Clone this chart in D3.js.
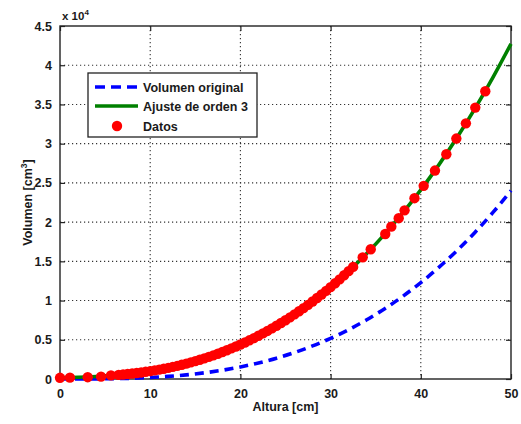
<!DOCTYPE html>
<html>
<head>
<meta charset="utf-8">
<script src="https://cdn.jsdelivr.net/npm/d3@7"></script>
<style>
  html, body { margin: 0; padding: 0; background: #fff; }
  svg { display: block; }
  text { font-family: "Liberation Sans", Arial, sans-serif; fill: #1a1a1a; }
</style>
</head>
<body>
<svg id="chart" width="521" height="424"></svg>
<script>
// ---- Data (volumes in cm^3) ----
const xTicks = [0, 10, 20, 30, 40, 50];
const yTicks = [0, 5000, 10000, 15000, 20000, 25000, 30000, 35000, 40000, 45000];
const yTickLabels = ["0", "0.5", "1", "1.5", "2", "2.5", "3", "3.5", "4", "4.5"];

// Volumen original (dashed blue)
const origH = [0, 2, 4, 6, 8, 10, 12, 14, 16, 18, 20, 22, 24, 26, 28, 30, 32, 34, 36, 38, 40, 42, 44, 46, 48, 50];
const origV = [0, 2, 12, 42, 98, 192, 332, 527, 786, 1120, 1536, 2044, 2654, 3375, 4215, 5184, 6292, 7546, 8958, 10535, 12288, 14225, 16355, 18687, 21234, 24000];

// Ajuste de orden 3 (solid green)
const fitH = [0, 2, 4, 6, 8, 10, 12, 14, 16, 18, 20, 22, 24, 26, 28, 30, 32, 34, 36, 38, 40, 42, 44, 46, 48, 50];
const fitV = [200, 230, 320, 470, 693, 1002, 1422, 1962, 2632, 3440, 4396, 5509, 6788, 8242, 9881, 11714, 13750, 15998, 18468, 21168, 24108, 27297, 30745, 34458, 38452, 42730];

// Datos (red markers)
const dataH = [0, 1.1, 3.07, 4.55, 5.65,
  6.5, 7, 7.5, 8, 8.5, 9, 9.5, 10, 10.5, 11, 11.5, 12, 12.5, 13, 13.5, 14, 14.5, 15, 15.5, 16,
  16.5, 17, 17.5, 18, 18.5, 19, 19.5, 20, 20.5, 21, 21.5, 22, 22.5, 23, 23.5, 24, 24.5, 25,
  25.5, 26, 26.5, 27, 27.5, 28, 28.5, 29, 29.5, 30, 30.5, 31, 31.5, 32, 32.5,
  33.56, 34.45, 36.06, 36.73, 37.55, 38.2, 39.3, 40.32, 41.57, 42.83, 43.94, 45.0, 46.04, 47.15];
const dataV = [150, 180, 230, 300, 460,
  528, 577, 632, 693, 760, 834, 915, 1002, 1096, 1198, 1306, 1422, 1546, 1677, 1816, 1962, 2117, 2281, 2452, 2632,
  2821, 3018, 3225, 3440, 3665, 3899, 4143, 4396, 4659, 4932, 5215, 5509, 5813, 6127, 6452, 6788, 7135, 7493,
  7862, 8242, 8634, 9038, 9454, 9881, 10321, 10773, 11237, 11714, 12204, 12706, 13221, 13750, 14292,
  15510, 16540, 18490, 19420, 20500, 21500, 23050, 24620, 26570, 28650, 30650, 32590, 34600, 36680];

const legendLabels = ["Volumen original", "Ajuste de orden 3", "Datos"];

// ---- Drawing ----
const svg = d3.select("#chart");
const pLeft = 60, pRight = 511, pTop = 26, pBottom = 379;

const x = d3.scaleLinear().domain([0, 50]).range([pLeft, pRight]);
const y = d3.scaleLinear().domain([0, 45000]).range([pBottom, pTop]);

const gridColor = "#333";

// grid
const grid = svg.append("g");
grid.selectAll("line.gx").data(xTicks.slice(1, -1)).join("line")
  .attr("x1", d => x(d)).attr("x2", d => x(d))
  .attr("y1", pTop).attr("y2", pBottom)
  .attr("stroke", gridColor).attr("stroke-width", 1.1).attr("stroke-dasharray", "1.2,2.8");
grid.selectAll("line.gy").data(yTicks.slice(1, -1)).join("line")
  .attr("x1", pLeft).attr("x2", pRight)
  .attr("y1", d => y(d)).attr("y2", d => y(d))
  .attr("stroke", gridColor).attr("stroke-width", 1.1).attr("stroke-dasharray", "1.2,2.8");

// axes (D3 axes with inward ticks)
const fontSize = "12.5px";
const axB = svg.append("g").attr("transform", `translate(0,${pBottom})`)
  .call(d3.axisBottom(x).tickValues(xTicks).tickSize(-5).tickPadding(10).tickFormat(d3.format("d")));
const axL = svg.append("g").attr("transform", `translate(${pLeft},0)`)
  .call(d3.axisLeft(y).tickValues(yTicks).tickSize(-5).tickPadding(8).tickFormat((d, i) => yTickLabels[i]));
const axT = svg.append("g").attr("transform", `translate(0,${pTop})`)
  .call(d3.axisTop(x).tickValues(xTicks).tickSize(-5).tickFormat(""));
const axR = svg.append("g").attr("transform", `translate(${pRight},0)`)
  .call(d3.axisRight(y).tickValues(yTicks).tickSize(-5).tickFormat(""));
[axB, axL, axT, axR].forEach(g => {
  g.select(".domain").remove();
  g.selectAll(".tick line").attr("stroke", "#222").attr("stroke-width", 1.2);
  g.selectAll(".tick text").attr("font-size", fontSize).attr("font-weight", "bold")
    .attr("font-family", "Liberation Sans, Arial, sans-serif").attr("fill", "#1a1a1a");
});

// frame
svg.append("rect").attr("x", pLeft).attr("y", pTop)
  .attr("width", pRight - pLeft).attr("height", pBottom - pTop)
  .attr("fill", "none").attr("stroke", "#222").attr("stroke-width", 1.4);

// series
const line = (hs, vs) => d3.line().curve(d3.curveMonotoneX)
  .x((d, i) => x(hs[i])).y((d, i) => y(vs[i]))(hs);

svg.append("path").attr("d", line(origH, origV))
  .attr("fill", "none").attr("stroke", "#0000ff").attr("stroke-width", 3.6)
  .attr("stroke-dasharray", "9,6");
svg.append("path").attr("d", line(fitH, fitV))
  .attr("fill", "none").attr("stroke", "#008000").attr("stroke-width", 3.6);
svg.append("g").selectAll("circle").data(dataH).join("circle")
  .attr("cx", (d, i) => x(dataH[i])).attr("cy", (d, i) => y(dataV[i]))
  .attr("r", 5.2).attr("fill", "#ff0000");

// exponent label
const ex = svg.append("text").attr("x", 62).attr("y", 19.5)
  .attr("font-size", "11.5px").attr("font-weight", "bold");
ex.append("tspan").text("x 10");
ex.append("tspan").attr("dy", -5).attr("font-size", "8px").text("4");

// axis labels
svg.append("text").attr("x", (pLeft + pRight) / 2).attr("y", 411)
  .attr("text-anchor", "middle").attr("font-size", fontSize).attr("font-weight", "bold")
  .text("Altura [cm]");
const yl = svg.append("text").attr("transform", `translate(32,${(pTop + pBottom) / 2}) rotate(-90)`)
  .attr("text-anchor", "middle").attr("font-size", fontSize).attr("font-weight", "bold");
yl.append("tspan").text("Volumen [cm");
yl.append("tspan").attr("dy", -5).attr("font-size", "8.5px").text("3");
yl.append("tspan").attr("dy", 5).text("]");

// legend
const lg = svg.append("g");
lg.append("rect").attr("x", 88).attr("y", 73).attr("width", 169).attr("height", 64)
  .attr("fill", "#fff").attr("stroke", "#222").attr("stroke-width", 1.3);
const rows = [87, 106, 126];
lg.append("line").attr("x1", 95).attr("x2", 138).attr("y1", rows[0]).attr("y2", rows[0])
  .attr("stroke", "#0000ff").attr("stroke-width", 3.6).attr("stroke-dasharray", "10,6");
lg.append("line").attr("x1", 95).attr("x2", 138).attr("y1", rows[1]).attr("y2", rows[1])
  .attr("stroke", "#008000").attr("stroke-width", 3.6);
lg.append("circle").attr("cx", 117).attr("cy", rows[2]).attr("r", 5.2).attr("fill", "#ff0000");
lg.selectAll("text").data(legendLabels).join("text")
  .attr("x", 143).attr("y", (d, i) => rows[i] + 4.5)
  .attr("font-size", fontSize).attr("font-weight", "bold").text(d => d);
</script>
</body>
</html>
